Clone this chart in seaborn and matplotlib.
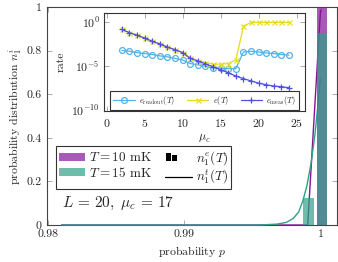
import numpy as np
import pandas as pd
import matplotlib
matplotlib.use('Agg')
import matplotlib.pyplot as plt
import seaborn as sns
from matplotlib.path import Path
from matplotlib.lines import Line2D
from matplotlib.patches import Patch
from matplotlib.ticker import LogFormatterMathtext, NullLocator

# main plot: theoretical curves n_1^t(T)
p_t10 = [0.981, 0.9985, 0.99906, 1.0]
n_t10 = [0.0, 0.0, 0.0, 0.985]
p_t15 = [0.981, 0.9955, 0.9968, 0.9975, 0.998, 0.9984, 0.9987, 0.9990, 0.9993, 0.9996, 1.0]
n_t15 = [0.0, 0.0, 0.004, 0.012, 0.03, 0.06, 0.11, 0.18, 0.28, 0.42, 0.67]

# main plot: experimental histogram n_1^e(T)
bin_centers = [0.9991, 1.0001]
bin_width = 0.00078
n_e10 = [0.0, 1.0]
n_e15 = [0.125, 0.88]

# inset: rates vs mu_c (log10 of the rate)
mu_c = list(range(2, 25))
log_readout = [-3.18, -3.28, -3.43, -3.54, -3.65, -3.80, -3.91, -4.09, -4.27, -4.67, -4.82, -5.0,
               -5.18, -5.18, -5.26, -5.26, -3.36, -3.28, -3.36, -3.47, -3.54, -3.65, -3.72]
log_e = [-0.80, -1.17, -1.46, -1.79, -2.15, -2.45, -2.81, -3.10, -3.43, -4.01, -4.38, -4.56,
         -4.74, -4.74, -4.67, -4.27, -0.44, 0.0, 0.0, 0.0, 0.0, 0.0, 0.0]
log_meas = [-0.80, -1.17, -1.46, -1.79, -2.15, -2.45, -2.81, -3.10, -3.43, -4.09, -4.38, -4.71,
            -5.04, -5.36, -5.73, -6.09, -6.39, -6.64, -6.90, -7.08, -7.23, -7.30, -7.41]

purple = '#85139b'
teal = '#2fa186'
c_readout = '#4fb4e8'
c_e = '#e8dc1a'
c_meas = '#5050e0'

sns.set_style('ticks')
plt.rcParams.update({
    'font.family': 'serif',
    'font.serif': ['cmr10', 'DejaVu Serif'],
    'mathtext.fontset': 'cm',
    'axes.formatter.use_mathtext': True,
    'axes.unicode_minus': False,
    'font.size': 8.5,
})

fig = plt.figure(figsize=(3.38, 2.62), dpi=100)
ax = fig.add_axes([47 / 338, 1 - 225 / 262, 290 / 338, 218 / 262])

sns.lineplot(x=p_t10, y=n_t10, ax=ax, color=purple, lw=1.0, zorder=2.6, clip_on=False)
sns.lineplot(x=p_t15, y=n_t15, ax=ax, color=teal, lw=1.0, zorder=2.7, clip_on=False)
ax.bar(bin_centers, n_e10, width=bin_width, color=purple, alpha=0.7, lw=0, zorder=3)
ax.bar(bin_centers, n_e15, width=bin_width, color=teal, alpha=0.7, lw=0, zorder=4)

ax.set_xlim(0.97993, 1.00121)
ax.set_ylim(0, 1)
ax.set_xticks([0.98, 0.99, 1.0])
ax.set_xticklabels(['0.98', '0.99', '1'])
ax.set_yticks([0, 0.2, 0.4, 0.6, 0.8, 1.0])
ax.set_yticklabels(['0', '0.2', '0.4', '0.6', '0.8', '1'])
ax.tick_params(direction='in', top=True, right=True, length=3.5, width=0.5,
               color='#888888', labelsize=8.5)
ax.tick_params(axis='x', pad=3)
ax.tick_params(axis='y', pad=4)
for s in ax.spines.values():
    s.set_color('#444444')
    s.set_linewidth(0.8)
ax.set_xlabel('probability $p$', fontsize=8.5)
ax.set_ylabel('probability distribution $n_1^i$', fontsize=8.5)
ax.xaxis.set_label_coords(0.5, -0.085)
ax.yaxis.set_label_coords(-0.078, 0.5)

fig.text(62 / 338, 1 - 203 / 262, r'$L\,=\,20,\ \mu_c\,=\,17$', fontsize=11,
         va='center', ha='left')

# custom legend handle for the histogram bars (drawn left of the handle centre)
bar_icon = Path([(-13.5, -4.5), (-13.5, 4.5), (-8.5, 4.5), (-8.5, -4.5), (-13.5, -4.5),
                 (-7, -4.5), (-7, 2), (-2, 2), (-2, -4.5), (-7, -4.5),
                 (13.5, 0), (13.5, 0)],
                [Path.MOVETO, Path.LINETO, Path.LINETO, Path.LINETO, Path.CLOSEPOLY,
                 Path.MOVETO, Path.LINETO, Path.LINETO, Path.LINETO, Path.CLOSEPOLY,
                 Path.MOVETO, Path.LINETO])
handles = [Patch(color=purple, alpha=0.7, lw=0), Patch(color=teal, alpha=0.7, lw=0),
           Line2D([], [], ls='none', marker=bar_icon, markersize=19.4, color='k', mew=0),
           Line2D([], [], color='k', lw=0.9)]
labels = [r'$T = 10$ mK', r'$T = 15$ mK', r'$n_1^e(T)$', r'$n_1^t(T)$']
leg = ax.legend(handles, labels, ncol=2, loc='upper left',
                bbox_to_anchor=(0.031, 0.362), borderaxespad=0, fontsize=9.5,
                handlelength=2.0, handleheight=0.6, handletextpad=0.3,
                columnspacing=1.0, labelspacing=0.12, borderpad=0.22,
                fancybox=False, framealpha=1, edgecolor='#333333')
leg.get_frame().set_linewidth(0.8)
leg.set_zorder(10)

# inset
ax_in = fig.add_axes([104 / 338, 1 - 110.5 / 262, 201 / 338, 97.2 / 262])
ax_in.set_facecolor('white')
sns.lineplot(x=mu_c, y=10.0 ** np.array(log_readout), ax=ax_in, color=c_readout,
             lw=0.9, marker='o', markersize=4.2, mfc='none', mec=c_readout, mew=0.9,
             label=r'$e_{\rm readout}(T)$')
sns.lineplot(x=mu_c, y=10.0 ** np.array(log_e), ax=ax_in, color=c_e,
             lw=0.9, marker='x', markersize=3.6, mec=c_e, mew=0.9, label=r'$e(T)$')
sns.lineplot(x=mu_c, y=10.0 ** np.array(log_meas), ax=ax_in, color=c_meas,
             lw=0.9, marker='+', markersize=5, mec=c_meas, mew=0.9,
             label=r'$e_{\rm meas}(T)$')
ax_in.set_yscale('log')
ax_in.set_xlim(-0.35, 26.1)
ax_in.set_ylim(10 ** -9.64, 10 ** 1.03)
ax_in.set_xticks([0, 5, 10, 15, 20, 25])
ax_in.set_yticks([1e-10, 1e-5, 1e0])
ax_in.yaxis.set_major_formatter(LogFormatterMathtext())
ax_in.yaxis.set_minor_locator(NullLocator())
ax_in.tick_params(direction='in', top=True, right=True, length=3.5, width=0.5,
                  color='#888888', labelsize=8.5)
ax_in.tick_params(axis='x', pad=4.7)
ax_in.tick_params(axis='y', pad=3)
for s in ax_in.spines.values():
    s.set_color('#333333')
    s.set_linewidth(0.8)
ax_in.set_xlabel(r'$\mu_c$', fontsize=8.5, labelpad=2.5)
ax_in.set_ylabel('rate', fontsize=8.5, labelpad=4)
lg = ax_in.legend(ncol=3, loc='lower center', bbox_to_anchor=(0.5, 0.01),
                  fontsize=6, handlelength=2.6, handletextpad=0.5, columnspacing=1.4,
                  borderpad=0.35, fancybox=False, framealpha=1, edgecolor='#333333',
                  borderaxespad=0)
lg.get_frame().set_linewidth(0.8)

fig.savefig('out.png', dpi=100)
